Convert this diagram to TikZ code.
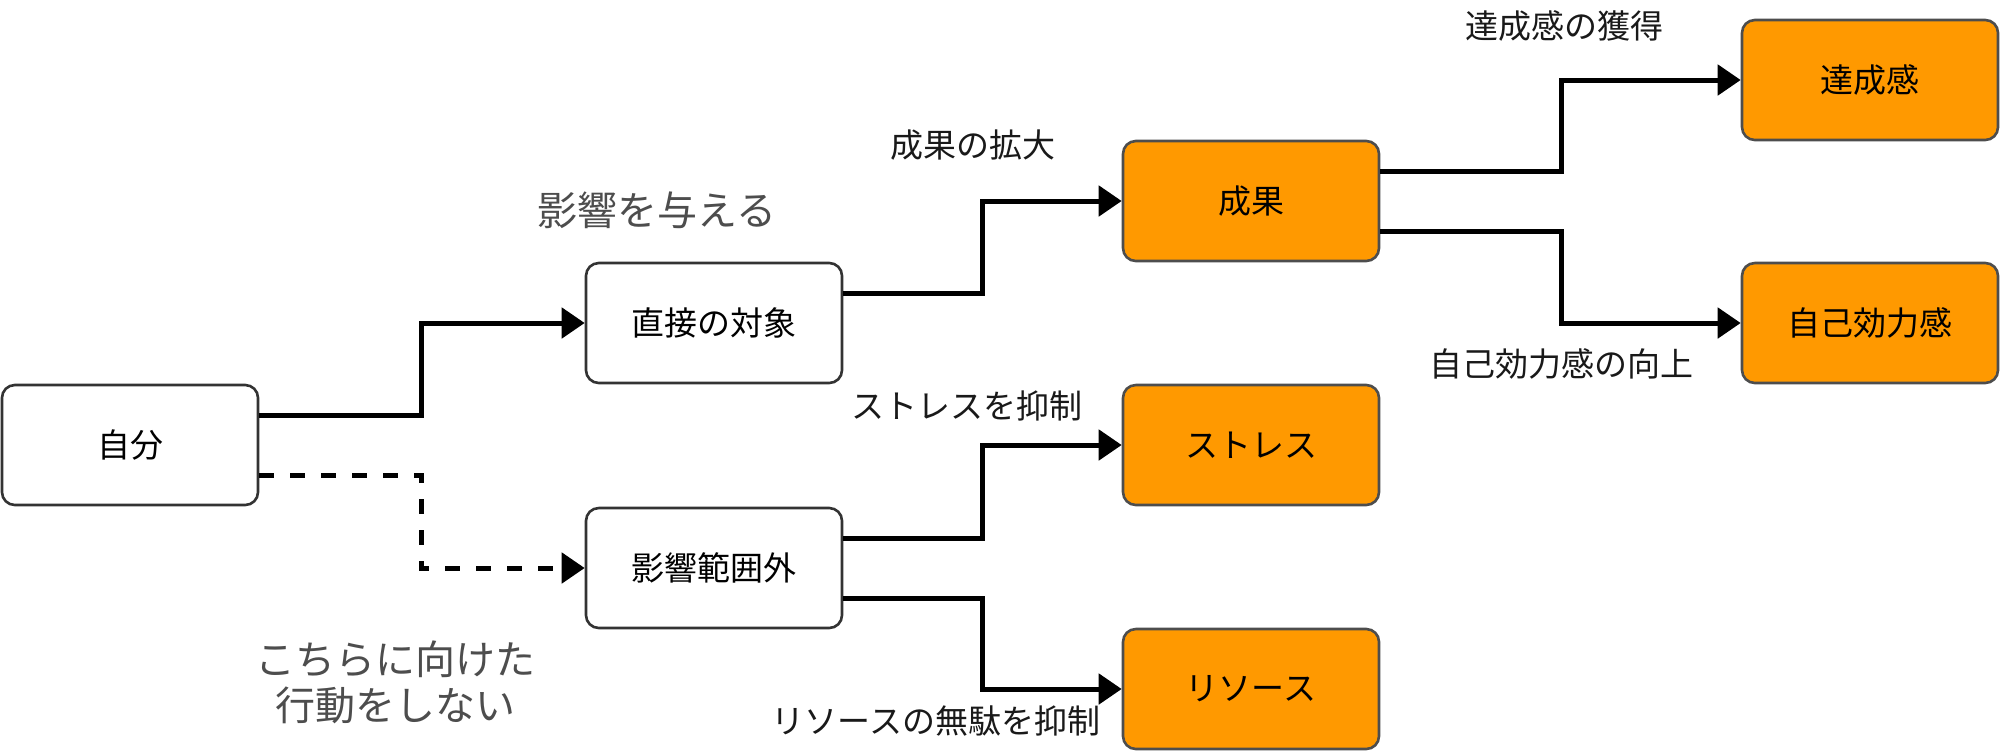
\documentclass[tikz,border=0pt]{standalone}
\usepackage{fontspec}
\setmainfont{Noto Sans CJK JP}
\usetikzlibrary{arrows.meta,calc}
\definecolor{orangefill}{HTML}{FF9900}
\definecolor{orangeline}{HTML}{4D4D4D}
\definecolor{boxline}{HTML}{333333}
\definecolor{graytext}{HTML}{4D4D4D}
\begin{document}
\begin{tikzpicture}[x=0.5pt,y=-0.5pt,
  box/.style={draw=boxline, line width=1.3pt, rounded corners=6.4pt, minimum width=128pt, minimum height=60pt, inner sep=0pt, font=\fontsize{16.5}{20}\selectfont, fill=white},
  obox/.style={box, fill=orangefill, draw=orangeline},
  conn/.style={line width=2.5pt, -{Triangle[length=11.5pt,width=15pt]}},
  lbl/.style={font=\fontsize{16.5}{20}\selectfont, text=black!90, inner sep=0pt},
  big/.style={font=\fontsize{20}{23}\selectfont, text=graytext, align=center, inner sep=0pt}]
\useasboundingbox (0,0) rectangle (2000,751);
\node[box] (self) at (130,445) {自分};
\node[box] (direct) at (714,323) {直接の対象};
\node[box] (outside) at (714,568) {影響範囲外};
\node[obox] (result) at (1251,201) {成果};
\node[obox] (stress) at (1251,445) {ストレス};
\node[obox] (resource) at (1251,689) {リソース};
\node[obox] (achieve) at (1870,80) {達成感};
\node[obox] (efficacy) at (1870,323) {自己効力感};
\coordinate (m1) at (421,0);
\coordinate (m2) at (982,0);
\coordinate (m3) at (1561,0);
\draw[conn] ([yshift=15pt]self.east) -| (m1 |- direct.west) -- (direct.west);
\draw[conn, dash pattern=on 7.5pt off 8pt] ([yshift=-15pt]self.east) -| (m1 |- outside.west) -- (outside.west);
\draw[conn] ([yshift=15pt]direct.east) -| (m2 |- result.west) -- (result.west);
\draw[conn] ([yshift=15pt]outside.east) -| (m2 |- stress.west) -- (stress.west);
\draw[conn] ([yshift=-15pt]outside.east) -| (m2 |- resource.west) -- (resource.west);
\draw[conn] ([yshift=15pt]result.east) -| (m3 |- achieve.west) -- (achieve.west);
\draw[conn] ([yshift=-15pt]result.east) -| (m3 |- efficacy.west) -- (efficacy.west);
\node[big] (l1) at (657,210) {影響を与える};
\node[lbl] (l2) at (973,145) {成果の拡大};
\node[lbl] (l3) at (1564,26) {達成感の獲得};
\node[lbl] (l4) at (1561,364) {自己効力感の向上};
\node[lbl] (l5) at (967,406) {ストレスを抑制};
\node[lbl] (l6) at (936,721) {リソースの無駄を抑制};
\node[big] (l7) at (395,682) {こちらに向けた\\行動をしない};
\end{tikzpicture}
\end{document}
